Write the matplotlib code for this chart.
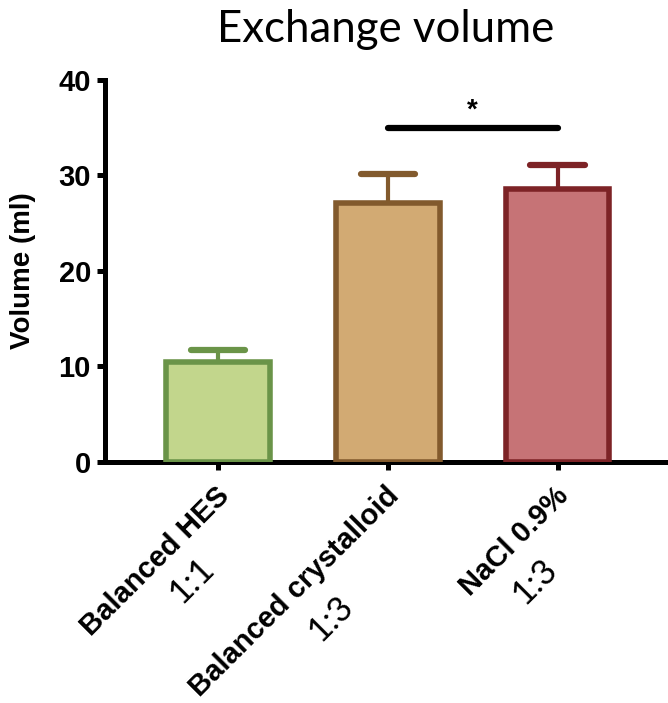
import matplotlib.pyplot as plt
import numpy as np

# Values.
groups = ["Balanced HES", "Balanced crystalloid", "NaCl 0.9%"]
ratios = ["1:1", "1:3", "1:3"]
means = [10.45, 27.1, 28.6]
upper_err = [1.25, 3.1, 2.5]
fill_colors = ["#c2d68c", "#d2aa73", "#c67376"]
edge_colors = ["#6a9448", "#825a2d", "#7d2326"]
sig_pair = (1, 2)
sig_level = 35.0
sig_text = "*"
yticks = [0, 10, 20, 30, 40]

# Pixel offsets of the ratio labels from each tick (layout only).
ratio_offsets = [(-26, -119), (-57, -157), (-23, -120)]

LW = 3.6
x = np.arange(len(groups))

fig = plt.figure(figsize=(6.68, 7.03), dpi=100)
ax = fig.add_axes([0.157, 0.3435, 0.843, 0.5425])

ax.bar(x, means, width=0.61, color=fill_colors, edgecolor=edge_colors,
       linewidth=4.0, zorder=3)
tops = np.array(means) + np.array(upper_err)
ax.vlines(x, means, tops, colors=edge_colors, linewidth=3.0, zorder=2)
caps = ax.hlines(tops, x - 0.16, x + 0.16, colors=edge_colors, linewidth=4.5, zorder=2)
caps.set_capstyle("round")

ax.plot(sig_pair, [sig_level, sig_level], color="black", linewidth=4.5,
        solid_capstyle="round", zorder=4)
ax.text(np.mean(sig_pair), sig_level + 0.4, sig_text, ha="center", va="bottom",
        fontsize=20, fontweight="bold", family="Liberation Sans")

ax.set_xlim(-0.665, 2.65)
ax.set_ylim(0, 40)
ax.set_yticks(yticks)
ax.set_yticklabels([str(t) for t in yticks], fontsize=21, fontweight="bold",
                   family="Liberation Sans")
ax.set_xticks(x)
ax.set_xticklabels([])
ax.tick_params(axis="both", direction="out", length=6, width=LW, pad=4)

for side in ["top", "right"]:
    ax.spines[side].set_visible(False)
for side in ["left", "bottom"]:
    ax.spines[side].set_linewidth(LW)
    ax.spines[side].set_capstyle("projecting")

ax.set_ylabel("Volume (ml)", fontsize=20, fontweight="bold", family="Liberation Sans")
ax.yaxis.set_label_coords(-0.122, 0.5)

for i, (name, ratio) in enumerate(zip(groups, ratios)):
    ax.annotate(name, xy=(i, 0), xycoords="data", xytext=(-3, -20),
                textcoords="offset pixels", rotation=45, ha="right", va="top",
                rotation_mode="anchor", fontsize=21, fontweight="bold",
                family="Liberation Sans", annotation_clip=False)
    ax.annotate(ratio, xy=(i, 0), xycoords="data", xytext=ratio_offsets[i],
                textcoords="offset pixels", rotation=45, ha="center", va="center",
                rotation_mode="anchor", fontsize=25, family="Lato",
                annotation_clip=False)

fig.text(0.577, 0.958, "Exchange volume", ha="center", va="center", fontsize=31.5,
         family="Lato")

fig.savefig("out.png", dpi=100)
